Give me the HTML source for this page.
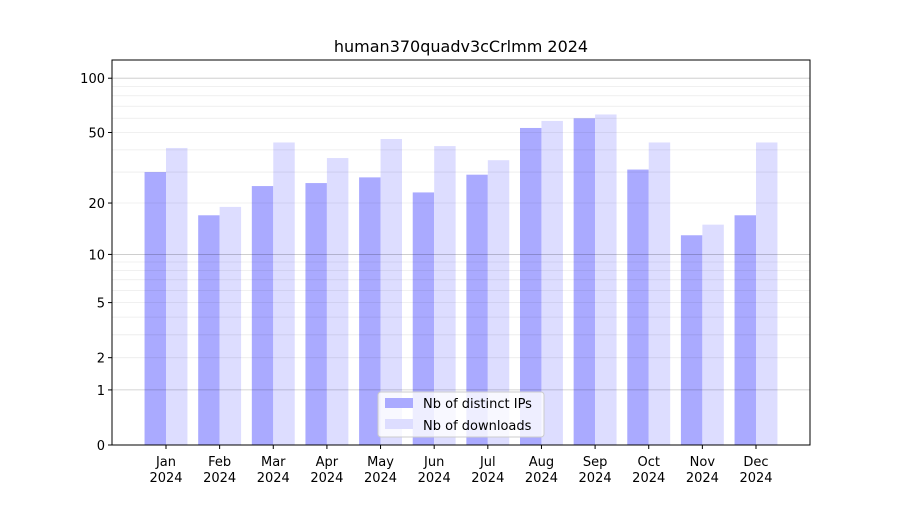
<!DOCTYPE html>
<html><head><meta charset="utf-8"><style>
body{margin:0;background:#fff;}
svg text{font-family:"DejaVu Sans","Liberation Sans",sans-serif;}
</style></head><body>
<svg id="chart" width="900" height="500" viewBox="0 0 900 500">
<rect width="900" height="500" fill="#fff"/>
<text x="461" y="52" font-size="16" text-anchor="middle">human370quadv3cCrlmm 2024</text>
<g id="bars"></g><g id="grid"></g><g id="axes"></g>
</svg>
<script>
const months=["Jan","Feb","Mar","Apr","May","Jun","Jul","Aug","Sep","Oct","Nov","Dec"];
const ips=[30,17,25,26,28,23,29,53,60,31,13,17];
const downloads=[41,19,44,36,46,42,35,58,63,44,15,44];
const yTicks=[0,1,2,5,10,20,50,100];
const L=112,R=810,T=60,B=445,K=183;
const NS="http://www.w3.org/2000/svg";
function y(v){return B-K*Math.log10(1+v);}
const step=(756-166)/11;
function xc(i){return 166+i*step;}
const bw=step*0.4;
function mk(tag,attrs,parent){const e=document.createElementNS(NS,tag);for(const k in attrs)e.setAttribute(k,attrs[k]);document.getElementById(parent).appendChild(e);return e;}
[2,3,4,5,6,7,8,9,20,30,40,50,60,70,80,90].forEach(v=>{
const g=mk("line",{x1:L,x2:R,y1:y(v),y2:y(v),stroke:"#000","stroke-opacity":0.08,"stroke-width":0.8},"grid");


});
[1,10,100].forEach(v=>{
const g=mk("line",{x1:L,x2:R,y1:y(v),y2:y(v),stroke:"#000","stroke-opacity":0.22,"stroke-width":0.8},"grid");


});
months.forEach((m,i)=>{
const a=mk("rect",{x:xc(i)-bw,y:y(ips[i]),width:bw,height:B-y(ips[i]),fill:"#aaaaff"},"bars");


const b=mk("rect",{x:xc(i),y:y(downloads[i]),width:bw,height:B-y(downloads[i]),fill:"#ddddff"},"bars");


const t=mk("line",{x1:xc(i),x2:xc(i),y1:B,y2:B+4,stroke:"#000"},"axes");


const l=mk("text",{x:xc(i),y:B+21,"font-size":13,"text-anchor":"middle"},"axes");


l.innerHTML='<tspan x="'+xc(i)+'">'+m+'</tspan><tspan x="'+xc(i)+'" dy="16">2024</tspan>';
});
yTicks.forEach(v=>{
const t=mk("line",{x1:L-4,x2:L,y1:y(v),y2:y(v),stroke:"#000"},"axes");


const l=mk("text",{x:L-7,y:y(v)+5,"font-size":13,"text-anchor":"end"},"axes");


l.textContent=v;
});
const fr=mk("rect",{x:L,y:T,width:R-L,height:B-T,fill:"none",stroke:"#000","stroke-width":1},"axes");


const lg=mk("g",{},"axes");


lg.innerHTML='<rect x="378" y="392" width="166" height="45" rx="3" fill="#fff" fill-opacity="0.8" stroke="#ccc"/>'+
'<rect x="385" y="398" width="28" height="10" fill="#aaaaff"/><text x="423" y="408" font-size="13">Nb of distinct IPs</text>'+
'<rect x="385" y="419" width="28" height="10" fill="#ddddff"/><text x="423" y="430" font-size="13">Nb of downloads</text>';
</script>
</body></html>
